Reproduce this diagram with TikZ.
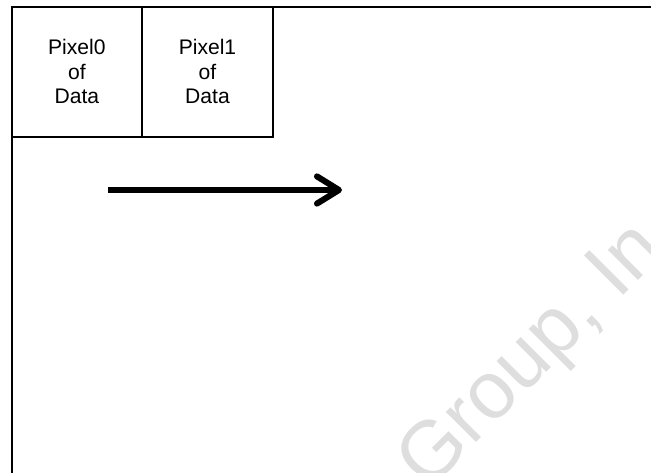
\documentclass[tikz,border=0pt]{standalone}
\usepackage{fontspec}
\setmainfont{Liberation Sans}
\usepackage{tikz}
\usetikzlibrary{positioning,arrows.meta}

\tikzset{
  pixbox/.style={draw, line width=1.4pt, minimum width=3.265cm, minimum height=3.25cm,
    inner sep=0pt, outer sep=0pt, align=center, anchor=north west,
    font=\fontsize{15}{17.4}\selectfont},
  flow/.style={line width=4.3pt,
    -{Straight Barb[length=5.5mm, width=6.8mm, line cap=round, line join=round]}},
  watermark/.style={text=black!13, font=\fontsize{57.5}{60}\selectfont,
    rotate=45, inner sep=0pt, anchor=base west}
}

\begin{document}
\begin{tikzpicture}
    % Picture area
    \useasboundingbox (0,0) rectangle (16.275,11.8);
    \clip (0,0) rectangle (16.275,11.8);

    % Watermark
    \node [watermark] (mark) at (10.7,-0.48) {Group, In};

    % Outer frame (runs past the picture edge)
    \draw [line width=1.4pt] (0.29,-1) |- (17.5,11.63);

    % Pixel boxes
    \foreach \i in {0,1} {
        \node [pixbox] (pix\i) at (0.29+\i*3.265, 11.63) {Pixel\i\\of\\Data};
    }

    % Direction arrow
    \coordinate (arrstart) at (2.7,7.05);
    \coordinate (arrend) at (8.55,7.05);
    \draw [flow] (arrstart) -- (arrend);
\end{tikzpicture}
\end{document}
